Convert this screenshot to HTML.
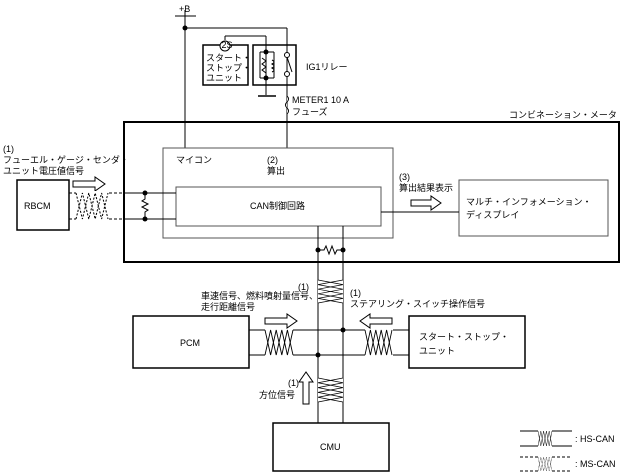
<!DOCTYPE html><html><head><meta charset="utf-8"><style>body{margin:0;background:#fff}svg{display:block}text{font-family:"Liberation Sans","Noto Sans CJK JP",sans-serif;font-size:9px;fill:#000}</style></head><body>
<svg width="626" height="474" viewBox="0 0 626 474" xmlns="http://www.w3.org/2000/svg">
<defs>
<g id="tv"><polyline points="0,0 25,5 0,10 25,15 0,20 25,25" fill="none" stroke="#000" stroke-width="0.8"/><polyline points="25,0 0,5 25,10 0,15 25,20 0,25" fill="none" stroke="#000" stroke-width="0.8"/></g>
<g id="th"><polyline points="0,0 5,25 10,0 15,25 20,0 25,25" fill="none" stroke="#000" stroke-width="0.8"/><polyline points="0,25 5,0 10,25 15,0 20,25 25,0" fill="none" stroke="#000" stroke-width="0.8"/></g>
</defs>
<g fill="none" stroke="#000">
<line x1="175" y1="16" x2="196" y2="16"/>
<line x1="185" y1="10" x2="185" y2="148"/>
<line x1="185" y1="28" x2="287" y2="28"/>
<line x1="287" y1="28" x2="287" y2="148"/>
<rect x="203" y="45" width="45" height="40" stroke-width="1.5"/>
<line x1="225" y1="40" x2="225" y2="36"/><line x1="225" y1="36" x2="266" y2="36"/><line x1="266" y1="36" x2="266" y2="52"/>
<circle cx="225" cy="46" r="5" fill="#fff"/>
<rect x="253" y="45" width="43" height="40" stroke-width="1.5"/>
<line x1="266" y1="52" x2="266" y2="95"/>
<line x1="260" y1="52" x2="260" y2="78"/><line x1="274" y1="52" x2="274" y2="78"/>
<line x1="260" y1="52" x2="274" y2="52"/><line x1="260" y1="78" x2="274" y2="78"/>
<polyline points="262,58 266,61 262,64 266,67 262,70 266,73"/>
<path d="M272,60 q4,2 0,4 q4,2 0,4 q4,2 0,4"/>
<circle cx="287" cy="55" r="2.5" fill="#fff"/><circle cx="287" cy="74" r="2.5" fill="#fff"/>
<line x1="287" y1="57" x2="292" y2="72"/>
<line x1="258" y1="96" x2="276" y2="96" stroke-width="1.5"/>
<path d="M287,96 q3,3 0,6 q-3,3 0,6 q3,3 0,6" fill="#fff"/>
<rect x="124" y="122" width="495" height="140" stroke-width="2"/>
<rect x="163" y="148" width="230" height="90" stroke="#555"/>
<rect x="176" y="187" width="205" height="39" stroke="#555"/>
<rect x="459" y="180" width="149" height="56" stroke="#555"/>
<line x1="381" y1="212" x2="459" y2="212"/>
<rect x="17" y="180" width="52" height="50" stroke-width="1.5"/>
<line x1="69" y1="193" x2="124" y2="193" stroke-dasharray="3,2"/>
<line x1="69" y1="219" x2="124" y2="219" stroke-dasharray="3,2"/>
<line x1="124" y1="193" x2="176" y2="193"/><line x1="124" y1="219" x2="176" y2="219"/>
<polyline points="145,193 145,199 142,201 148,204 142,207 148,210 145,212 145,219"/>
<line x1="318" y1="226" x2="318" y2="423"/><line x1="343" y1="226" x2="343" y2="423"/>
<polyline points="318,250 324,250 326,246 329,254 332,246 335,254 337,250 343,250"/>
<rect x="133" y="316" width="116" height="52" stroke-width="1.5"/>
<rect x="409" y="316" width="116" height="52" stroke-width="1.5"/>
<rect x="273" y="423" width="116" height="48" stroke-width="1.5"/>
<line x1="249" y1="330" x2="409" y2="330"/><line x1="249" y1="355" x2="409" y2="355"/>
<path d="M73,181 h22 v-4 l10,7 l-10,7 v-4 h-22 z" fill="#fff"/>
<path d="M411,200 h20 v-4 l10,7 l-10,7 v-4 h-20 z" fill="#fff"/>
<path d="M265,318 h22 v-4 l10,7 l-10,7 v-4 h-22 z" fill="#fff"/>
<path d="M392,318 h-22 v-4 l-10,7 l10,7 v-4 h22 z" fill="#fff"/>
<path d="M303,404 v-22 h-4 l7,-10 l7,10 h-4 v22 z" fill="#fff"/>
<line x1="520" y1="431" x2="538" y2="431"/><line x1="520" y1="446" x2="538" y2="446"/>
<line x1="552" y1="431" x2="572" y2="431"/><line x1="552" y1="446" x2="572" y2="446"/>
<line x1="520" y1="457" x2="538" y2="457" stroke-dasharray="3,2"/><line x1="520" y1="471" x2="538" y2="471" stroke-dasharray="3,2"/>
<line x1="552" y1="457" x2="572" y2="457" stroke-dasharray="3,2"/><line x1="552" y1="471" x2="572" y2="471" stroke-dasharray="3,2"/>
</g>
<rect x="76" y="191" width="32" height="30" fill="#fff"/>
<g stroke-dasharray="2,1.5"><use href="#th" transform="translate(76,193) scale(1.28,1.04)"/></g>
<rect x="318" y="280" width="25" height="23" fill="#fff"/><use href="#tv" transform="translate(318,280) scale(1,0.92)"/>
<rect x="318" y="378" width="25" height="24" fill="#fff"/><use href="#tv" transform="translate(318,378) scale(1,0.96)"/>
<rect x="265" y="329" width="28" height="27" fill="#fff"/><use href="#th" transform="translate(265,330) scale(1.12,1)"/>
<rect x="365" y="329" width="28" height="27" fill="#fff"/><use href="#th" transform="translate(365,330) scale(1.08,1)"/>
<rect x="538" y="430" width="14" height="17" fill="#fff"/><use href="#th" transform="translate(538,431) scale(0.56,0.6)"/>
<rect x="538" y="456" width="14" height="16" fill="#fff"/><g stroke-dasharray="1.5,1"><use href="#th" transform="translate(538,457) scale(0.56,0.56)"/></g>
<g fill="#000">
<circle cx="185" cy="28" r="2.5"/><circle cx="266" cy="52" r="2.5"/><circle cx="266" cy="78" r="2.5"/>
<circle cx="145" cy="193" r="2.5"/><circle cx="145" cy="219" r="2.5"/>
<circle cx="318" cy="250" r="2.5"/><circle cx="343" cy="250" r="2.5"/>
<circle cx="343" cy="330" r="2.5"/><circle cx="318" cy="355" r="2.5"/>
</g>
<text x="179" y="12">+B</text>
<text x="221.5" y="48" font-size="5">2S</text>
<text x="206" y="61" font-size="7">スタート・</text><text x="206" y="71" font-size="7">ストップ・</text><text x="206" y="81" font-size="7">ユニット</text>
<text x="306" y="70">IG1リレー</text>
<text x="292" y="103">METER1 10 A</text><text x="292" y="115">フューズ</text>
<text x="509" y="118">コンビネーション・メータ</text>
<text x="3" y="152">(1)</text><text x="3" y="163">フューエル・ゲージ・センダ・</text><text x="3" y="174">ユニット電圧値信号</text>
<text x="24" y="209">RBCM</text>
<text x="176" y="163">マイコン</text>
<text x="267" y="163">(2)</text><text x="267" y="174">算出</text>
<text x="250" y="209">CAN制御回路</text>
<text x="399" y="180">(3)</text><text x="399" y="191">算出結果表示</text>
<text x="466" y="205">マルチ・インフォメーション・</text><text x="466" y="218">ディスプレイ</text>
<text x="298" y="290">(1)</text>
<text x="350" y="296">(1)</text><text x="350" y="307">ステアリング・スイッチ操作信号</text>
<text x="201" y="299">車速信号、燃料噴射量信号、</text><text x="201" y="310">走行距離信号</text>
<text x="180" y="346">PCM</text>
<text x="419" y="340">スタート・ストップ・</text><text x="419" y="354">ユニット</text>
<text x="288" y="386">(1)</text><text x="259" y="398">方位信号</text>
<text x="320" y="450">CMU</text>
<text x="575" y="442">: HS-CAN</text><text x="575" y="467">: MS-CAN</text>
</svg></body></html>
